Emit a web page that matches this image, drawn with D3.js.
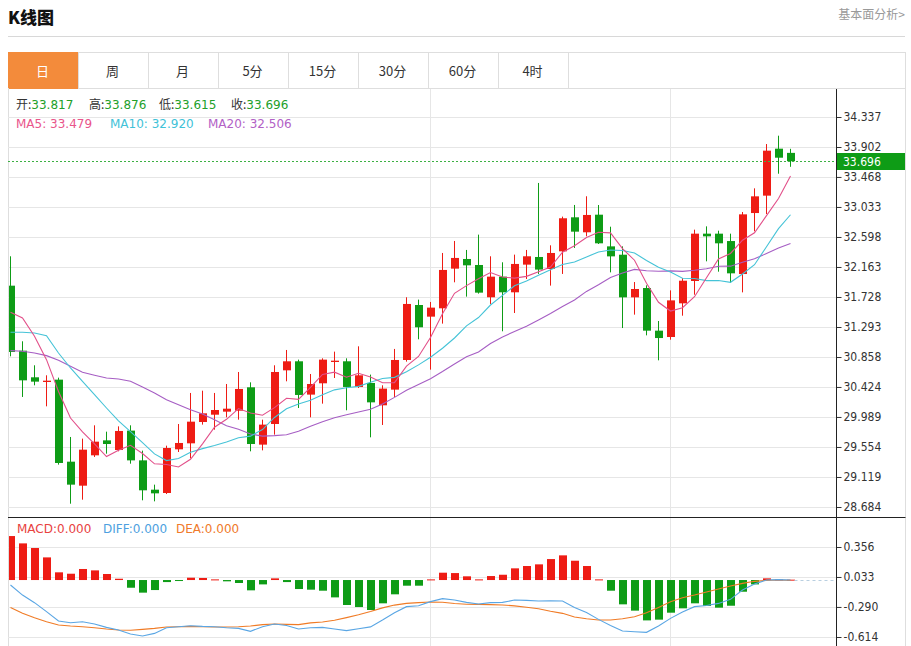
<!DOCTYPE html>
<html><head><meta charset="utf-8">
<script src="https://cdn.jsdelivr.net/npm/d3@7/dist/d3.min.js"></script>
<style>
body{margin:0;background:#fff;}
svg{display:block;}
</style></head><body>
<svg id="c" width="911" height="646"></svg>
<script>
// ---------- data ----------
const tabs = ["日","周","月","5分","15分","30分","60分","4时"];

const opens  = [31.892,30.950,30.564,30.496,30.530,29.341,28.993,29.433,29.650,29.510,
                29.791,29.360,28.935,28.887,29.520,29.607,29.916,30.022,30.066,30.080,
                30.419,29.588,29.887,30.665,30.796,30.313,30.477,30.786,30.796,30.424,
                30.482,30.158,30.385,30.815,31.612,31.443,31.564,32.139,32.279,32.192,
                31.724,32.023,31.796,32.197,32.308,32.134,32.390,32.883,32.666,32.921,
                32.462,32.341,31.723,31.858,31.240,31.148,31.636,31.960,32.646,32.646,
                32.539,32.061,32.945,33.197,33.878,33.817];
const highs  = [32.318,31.086,30.738,30.593,30.559,29.699,29.675,29.868,29.776,29.853,
                29.868,29.501,29.008,29.573,29.887,30.337,30.370,30.337,30.467,30.641,
                30.491,29.950,30.738,30.960,30.820,30.612,30.839,30.936,30.839,31.013,
                30.603,30.448,30.975,31.724,31.690,31.656,32.366,32.540,32.410,32.632,
                32.318,32.231,32.342,32.410,33.381,32.477,32.893,33.062,33.188,33.061,
                32.747,32.462,31.945,31.897,31.380,31.824,32.003,32.704,32.752,32.689,
                32.646,32.960,33.303,33.945,34.066,33.876];
const lows   = [30.868,30.279,30.448,30.143,29.298,28.732,28.790,29.409,29.457,29.491,
                29.312,28.781,28.766,28.872,29.481,29.389,29.878,29.805,29.984,29.950,
                29.491,29.505,29.733,30.506,30.119,29.984,30.182,30.554,30.086,30.409,
                29.694,29.873,30.279,30.791,31.115,30.675,31.342,31.941,31.733,31.777,
                31.627,31.231,31.496,31.989,32.062,31.893,32.062,32.439,32.608,32.496,
                32.085,31.278,31.472,31.172,30.810,31.109,31.457,31.761,32.245,32.095,
                31.931,31.795,32.680,32.931,33.515,33.615];
const closes = [30.931,30.520,30.501,30.515,29.322,29.008,29.515,29.631,29.597,29.786,
                29.360,28.926,28.882,29.539,29.612,29.921,30.042,30.090,30.109,30.395,
                29.597,29.878,30.641,30.796,30.308,30.467,30.820,30.805,30.424,30.593,
                30.201,30.400,30.815,31.627,31.289,31.574,32.120,32.294,32.187,31.791,
                32.023,31.796,32.207,32.318,32.125,32.366,32.869,32.675,32.917,32.506,
                32.317,31.723,31.844,31.240,31.133,31.679,31.964,32.646,32.607,32.506,
                32.071,32.926,33.187,33.849,33.747,33.696];

const ma5  = [31.506,31.424,31.158,30.820,30.358,29.973,29.772,29.598,29.415,29.507,
              29.578,29.460,29.310,29.299,29.264,29.376,29.599,29.841,29.955,30.111,
              30.047,30.014,30.124,30.261,30.244,30.418,30.606,30.639,30.565,30.622,
              30.569,30.485,30.487,30.727,30.866,31.141,31.485,31.781,31.893,31.993,
              32.083,32.018,32.001,32.027,32.094,32.162,32.377,32.471,32.590,32.667,
              32.657,32.428,32.261,31.926,31.651,31.524,31.572,31.732,32.006,32.280,
              32.359,32.551,32.659,32.908,33.156,33.481];
const ma10 = [31.216,31.216,31.206,31.168,30.916,30.699,30.506,30.312,30.119,29.933,
              29.776,29.616,29.454,29.357,29.386,29.477,29.530,29.576,29.627,29.688,
              29.711,29.807,29.982,30.108,30.178,30.232,30.310,30.382,30.413,30.433,
              30.493,30.546,30.563,30.646,30.744,30.855,30.985,31.134,31.310,31.430,
              31.612,31.752,31.891,31.960,32.044,32.123,32.198,32.236,32.309,32.380,
              32.410,32.402,32.366,32.258,32.159,32.090,32.000,31.997,31.966,31.966,
              31.941,32.062,32.196,32.457,32.718,32.920];
const ma20 = [30.950,30.941,30.916,30.878,30.810,30.723,30.636,30.593,30.554,30.539,
              30.506,30.424,30.337,30.240,30.167,30.095,30.032,29.950,29.863,29.810,
              29.743,29.711,29.718,29.732,29.782,29.855,29.920,29.979,30.020,30.060,
              30.102,30.176,30.273,30.377,30.461,30.544,30.647,30.758,30.862,30.931,
              31.053,31.149,31.227,31.303,31.394,31.489,31.591,31.685,31.809,31.905,
              32.011,32.077,32.128,32.109,32.101,32.107,32.099,32.116,32.137,32.173,
              32.175,32.232,32.281,32.358,32.439,32.505];

const macdHist = [0.474,0.395,0.345,0.244,0.083,0.068,0.119,0.104,0.065,0.014,
                  -0.083,-0.136,-0.108,-0.022,-0.004,0.025,0.022,0.007,-0.014,-0.032,
                  -0.111,-0.047,0.018,-0.022,-0.097,-0.104,-0.115,-0.187,-0.269,-0.291,
                  -0.323,-0.251,-0.154,-0.061,-0.061,0.007,0.079,0.075,0.040,0.007,
                  0.043,0.057,0.126,0.151,0.169,0.226,0.266,0.208,0.151,0.007,
                  -0.115,-0.262,-0.330,-0.435,-0.427,-0.352,-0.305,-0.251,-0.280,-0.298,
                  -0.277,-0.126,-0.047,0.018,0.007,0.004];
const diff = [-0.054,-0.162,-0.244,-0.341,-0.442,-0.460,-0.449,-0.474,-0.510,-0.539,
              -0.582,-0.603,-0.575,-0.514,-0.503,-0.492,-0.499,-0.503,-0.514,-0.521,
              -0.553,-0.503,-0.474,-0.490,-0.528,-0.514,-0.510,-0.528,-0.545,-0.525,
              -0.505,-0.431,-0.352,-0.287,-0.277,-0.233,-0.201,-0.216,-0.241,-0.259,
              -0.244,-0.241,-0.216,-0.219,-0.226,-0.223,-0.226,-0.295,-0.350,-0.424,
              -0.489,-0.550,-0.557,-0.564,-0.496,-0.413,-0.345,-0.287,-0.275,-0.252,
              -0.208,-0.107,-0.042,0.000,0.004,0.000];
const dea  = [-0.295,-0.359,-0.406,-0.449,-0.485,-0.496,-0.503,-0.514,-0.528,-0.539,
              -0.542,-0.532,-0.521,-0.506,-0.503,-0.499,-0.503,-0.506,-0.506,-0.503,
              -0.496,-0.481,-0.474,-0.478,-0.481,-0.462,-0.452,-0.434,-0.405,-0.375,
              -0.340,-0.300,-0.270,-0.252,-0.243,-0.236,-0.240,-0.253,-0.261,-0.262,
              -0.265,-0.269,-0.279,-0.294,-0.310,-0.336,-0.359,-0.399,-0.417,-0.431,
              -0.431,-0.417,-0.395,-0.352,-0.295,-0.233,-0.190,-0.162,-0.129,-0.097,
              -0.065,-0.036,-0.014,-0.004,0.000,-0.004];

const priceTickLabels = ["34.337","33.902","33.468","33.033","32.598","32.163","31.728",
                         "31.293","30.858","30.424","29.989","29.554","29.119","28.684"];
const macdTickLabels  = ["0.356","0.033","-0.290","-0.614"];
const monthBreaks = [35, 55];

const ohlcLegend = [["开:","33.817"],["高:","33.876"],["低:","33.615"],["收:","33.696"]];
const maLegend   = [["MA5: 33.479","#e9558b"],["MA10: 32.920","#3fc2d8"],["MA20: 32.506","#b261c6"]];
const macdLegend = [["MACD:0.000","#e8423f"],["DIFF:0.000","#4d9fe0"],["DEA:0.000","#f07a2a"]];
const lastPrice = "33.696";

// ---------- styles ----------
const UP = "#ee1c14", DOWN = "#0e9c16";
const C_MA5 = "#e2508a", C_MA10 = "#45c3d7", C_MA20 = "#a65ec4";
const C_DIFF = "#5aa6e4", C_DEA = "#f07b26";
const GRID = "#e6e6e6";
const NUMFONT = "DejaVu Sans Condensed, Liberation Sans, sans-serif";
const LEGFONT = "DejaVu Sans, Verdana, sans-serif";
const CJK = "Noto Sans CJK SC, sans-serif";

const svg = d3.select("#c");
const L = 8, R = 836, FR = 905.5;
const pTop = 89, pBot = 517, mBot = 646;

const x = d3.scaleLinear().domain([0, 65]).range([10.5, 790.5]);
const y = d3.scaleLinear().domain([+priceTickLabels[13], +priceTickLabels[0]]).range([507, 117]);
const ym = d3.scaleLinear().domain([+macdTickLabels[3], +macdTickLabels[0]]).range([637, 547]);

// ---------- header ----------
svg.append("text").attr("x", 8).attr("y", 24).attr("font-family", CJK)
  .attr("font-size", 17).attr("font-weight", "900").attr("fill", "#111").text("K线图");
svg.append("text").attr("x", 905).attr("y", 19).attr("text-anchor", "end")
  .attr("font-family", CJK).attr("font-size", 12).attr("fill", "#999").text("基本面分析>");
svg.append("line").attr("x1", 8).attr("x2", 905).attr("y1", 36.5).attr("y2", 36.5)
  .attr("stroke", "#d8d8d8");

// ---------- tabs ----------
const tabW = 70;
const tabG = svg.append("g");
tabG.append("rect").attr("x", 8.5).attr("y", 52.5).attr("width", FR - 8.5).attr("height", 36)
  .attr("fill", "#fff").attr("stroke", "#dedede");
tabG.selectAll("rect.tab").data(tabs).join("rect").attr("class", "tab")
  .attr("x", (d, i) => 8.5 + i * tabW).attr("y", 52.5).attr("width", tabW).attr("height", 36)
  .attr("fill", (d, i) => i === 0 ? "#f38b3b" : "#fff")
  .attr("stroke", (d, i) => i === 0 ? "#f38b3b" : "#dedede");
tabG.selectAll("text").data(tabs).join("text")
  .attr("x", (d, i) => 8 + i * tabW + 34.5).attr("y", 71).attr("dy", "0.35em")
  .attr("text-anchor", "middle").attr("font-family", CJK).attr("font-size", 13)
  .attr("fill", (d, i) => i === 0 ? "#fff" : "#333").text(d => d);

// ---------- frame ----------
svg.append("line").attr("x1", 8.5).attr("x2", 8.5).attr("y1", 88).attr("y2", mBot).attr("stroke", "#dedede");
svg.append("line").attr("x1", FR).attr("x2", FR).attr("y1", 88).attr("y2", mBot).attr("stroke", "#dedede");

// ---------- grid ----------
const grid = svg.append("g");
grid.selectAll("line.h").data(priceTickLabels).join("line").attr("class", "h")
  .attr("x1", L).attr("x2", R).attr("y1", d => Math.round(y(+d)) + 0.5).attr("y2", d => Math.round(y(+d)) + 0.5)
  .attr("stroke", GRID);
grid.selectAll("line.m").data(macdTickLabels).join("line").attr("class", "m")
  .attr("x1", L).attr("x2", R).attr("y1", d => Math.round(ym(+d)) + 0.5).attr("y2", d => Math.round(ym(+d)) + 0.5)
  .attr("stroke", GRID);
grid.selectAll("line.v").data(monthBreaks).join("line").attr("class", "v")
  .attr("x1", d => x(d)).attr("x2", d => x(d)).attr("y1", pTop).attr("y2", mBot)
  .attr("stroke", GRID);

// ---------- clip ----------
const defs = svg.append("defs");
defs.append("clipPath").attr("id", "cp").append("rect").attr("x", 9).attr("y", pTop).attr("width", R - 9).attr("height", pBot - pTop);
defs.append("clipPath").attr("id", "cm").append("rect").attr("x", 9).attr("y", pBot).attr("width", R - 9).attr("height", mBot - pBot);

// ---------- candles ----------
const idx = d3.range(closes.length);
const cg = svg.append("g").attr("clip-path", "url(#cp)");
cg.selectAll("line.w").data(idx).join("line").attr("class", "w")
  .attr("x1", i => x(i)).attr("x2", i => x(i))
  .attr("y1", i => y(highs[i])).attr("y2", i => y(lows[i]))
  .attr("stroke", i => closes[i] >= opens[i] ? UP : DOWN);
cg.selectAll("rect.b").data(idx).join("rect").attr("class", "b")
  .attr("x", i => x(i) - 3.5).attr("width", 8)
  .attr("y", i => y(Math.max(opens[i], closes[i])))
  .attr("height", i => Math.max(1.2, Math.abs(y(opens[i]) - y(closes[i]))))
  .attr("fill", i => closes[i] >= opens[i] ? UP : DOWN);

// MA lines
const line = d3.line().x((d, i) => x(i)).y(d => y(d));
[[ma20, C_MA20], [ma10, C_MA10], [ma5, C_MA5]].forEach(([arr, col]) => {
  cg.append("path").attr("d", line(arr)).attr("fill", "none").attr("stroke", col).attr("stroke-width", 1.1);
});

// last price dashed line
const yl = Math.round(y(+lastPrice)) + 0.5;
svg.append("line").attr("x1", L).attr("x2", R).attr("y1", yl).attr("y2", yl)
  .attr("stroke", "#3cb043").attr("stroke-dasharray", "2,2");

// ---------- MACD ----------
const mg = svg.append("g").attr("clip-path", "url(#cm)");
const y0 = ym(0);
mg.selectAll("rect").data(idx).join("rect")
  .attr("x", i => x(i) - 3.5).attr("width", 8)
  .attr("y", i => Math.min(y0, ym(macdHist[i])))
  .attr("height", i => Math.max(1, Math.abs(ym(macdHist[i]) - y0)))
  .attr("fill", i => macdHist[i] >= 0 ? UP : DOWN);
const mline = d3.line().x((d, i) => x(i)).y(d => ym(d));
mg.append("path").attr("d", mline(dea)).attr("fill", "none").attr("stroke", C_DEA).attr("stroke-width", 1.1);
mg.append("path").attr("d", mline(diff)).attr("fill", "none").attr("stroke", C_DIFF).attr("stroke-width", 1.1);
svg.append("line").attr("x1", x(65) + 4).attr("x2", R).attr("y1", Math.round(y0) + 0.5).attr("y2", Math.round(y0) + 0.5)
  .attr("stroke", "#b9cfe0").attr("stroke-dasharray", "3,3");

// separator between panels
svg.append("line").attr("x1", L).attr("x2", FR).attr("y1", pBot + 0.5).attr("y2", pBot + 0.5)
  .attr("stroke", "#222");

// ---------- axes ----------
const axP = d3.axisRight(y).tickValues(priceTickLabels.map(Number))
  .tickFormat((d, i) => priceTickLabels[i]).tickSize(5).tickPadding(2).tickSizeOuter(0);
const gP = svg.append("g").attr("transform", `translate(${R + 0.5},0)`).call(axP);
const axM = d3.axisRight(ym).tickValues(macdTickLabels.map(Number))
  .tickFormat((d, i) => macdTickLabels[i]).tickSize(5).tickPadding(2).tickSizeOuter(0);
const gM = svg.append("g").attr("transform", `translate(${R + 0.5},0)`).call(axM);
[gP, gM].forEach(g => {
  g.select(".domain").remove();
  g.selectAll(".tick line").attr("stroke", "#333");
  g.selectAll(".tick text").attr("font-family", NUMFONT).attr("font-size", 12).attr("fill", "#333");
});
svg.append("line").attr("x1", R + 0.5).attr("x2", R + 0.5).attr("y1", pTop).attr("y2", mBot).attr("stroke", "#222");

// last price label
svg.append("rect").attr("x", R + 1).attr("y", yl - 8.5).attr("width", FR - R - 1.5).attr("height", 17).attr("fill", "#0e9c16");
svg.append("text").attr("x", R + 7).attr("y", yl).attr("dy", "0.35em").attr("font-family", NUMFONT)
  .attr("font-size", 12).attr("fill", "#fff").text(lastPrice);

// ---------- legends ----------
const ohlcX = [16, 89, 159, 231];
const t1 = svg.append("g").attr("font-family", LEGFONT).attr("font-size", 12);
ohlcLegend.forEach(([lab, val], i) => {
  const t = t1.append("text").attr("x", ohlcX[i]).attr("y", 109);
  t.append("tspan").attr("fill", "#333").attr("font-family", CJK).text(lab);
  t.append("tspan").attr("fill", "#22a02a").text(val);
});
const maX = [16, 110, 208];
maLegend.forEach(([txt, col], i) => {
  t1.append("text").attr("x", maX[i]).attr("y", 128).attr("fill", col).text(txt);
});
const macdX = [17, 103, 176];
macdLegend.forEach(([txt, col], i) => {
  t1.append("text").attr("x", macdX[i]).attr("y", 533).attr("fill", col).text(txt);
});
</script>
</body></html>
